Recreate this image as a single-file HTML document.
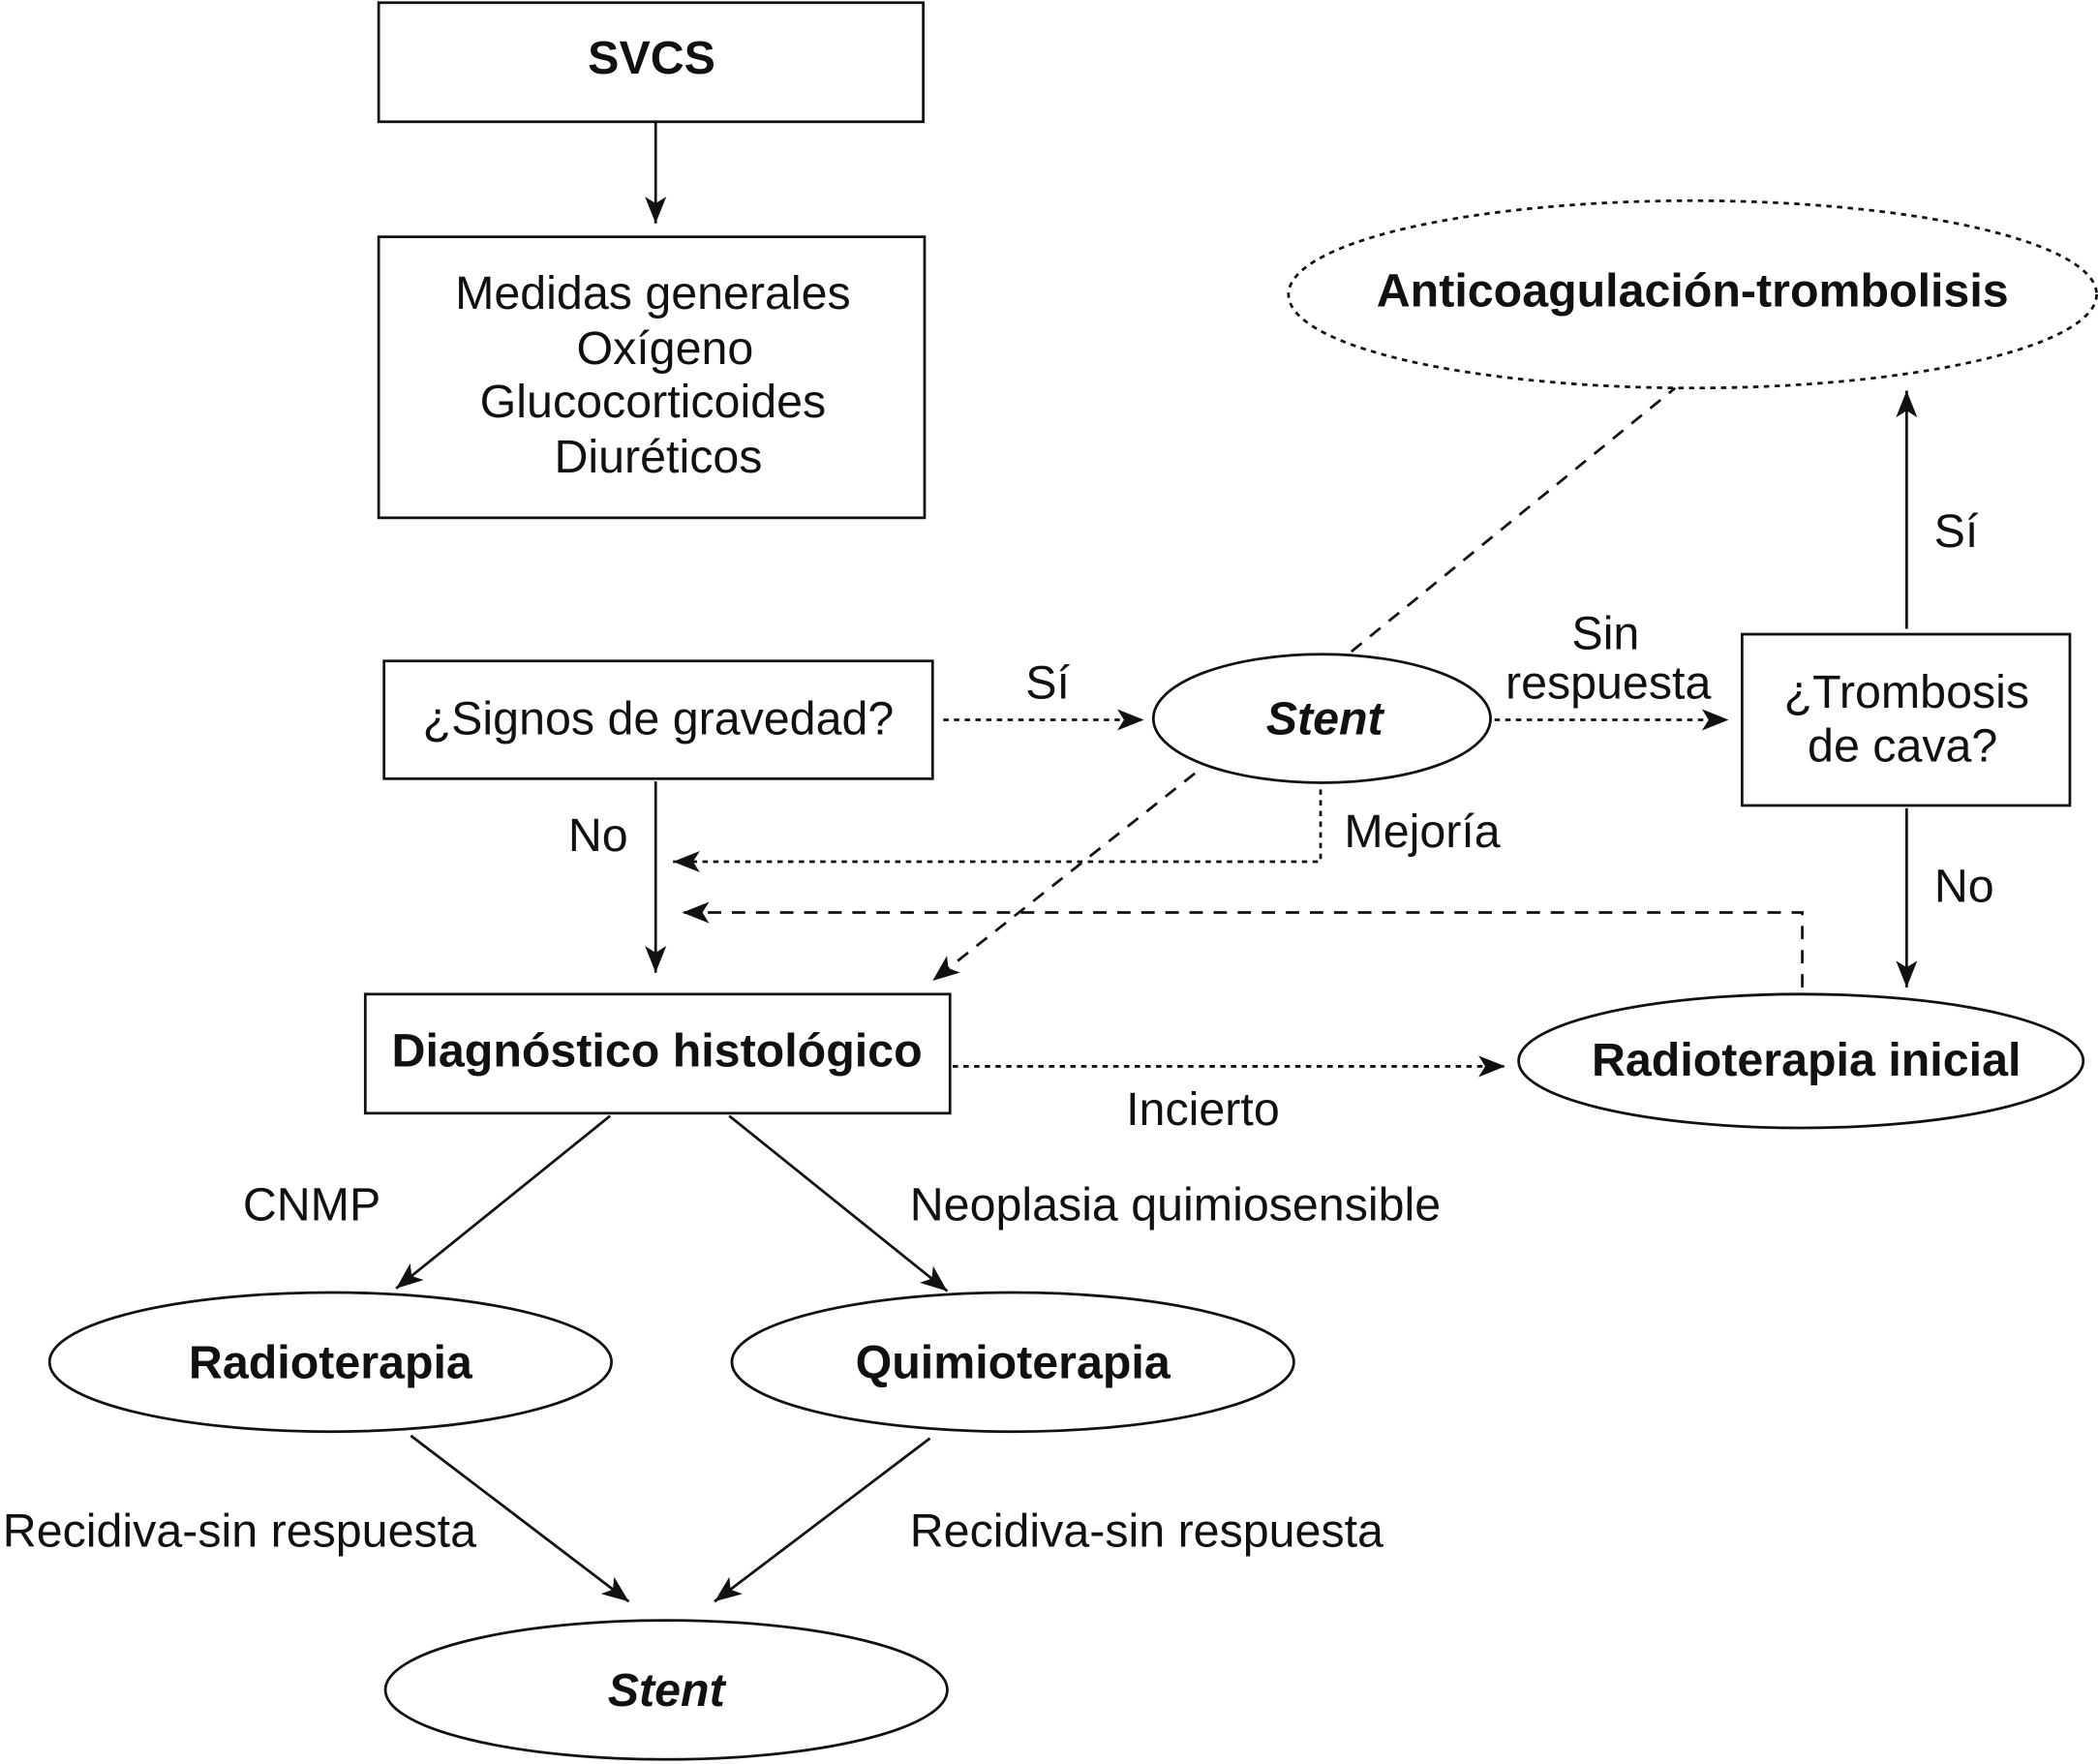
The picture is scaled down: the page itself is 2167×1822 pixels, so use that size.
<!DOCTYPE html>
<html><head><meta charset="utf-8"><style>
html,body{margin:0;padding:0;background:#fff}
svg{display:block}
text{font-family:"Liberation Sans",Arial,sans-serif;font-size:35px;fill:#111}
.b{font-weight:bold}
</style></head><body>
<svg width="2167" height="1822" viewBox="0 0 1568 1318.4" xmlns="http://www.w3.org/2000/svg">
<defs>
<marker id="A" viewBox="0 0 10 10" refX="10" refY="5" markerWidth="20" markerHeight="20" markerUnits="userSpaceOnUse" orient="auto"><path d="M0,1 L10,5 L0,9 L2.5,5 z" fill="#111"/></marker>
</defs>
<g fill="none" stroke="#111" stroke-width="2">
<rect x="283" y="2" width="407" height="89"/>
<rect x="283" y="177" width="408" height="210"/>
<ellipse cx="1265" cy="220" rx="302" ry="70" stroke-dasharray="4,4"/>
<rect x="287" y="494" width="410" height="88"/>
<ellipse cx="988" cy="537" rx="126" ry="48"/>
<rect x="1302" y="474" width="245" height="128"/>
<ellipse cx="1346" cy="793" rx="211" ry="50"/>
<rect x="273" y="743" width="437" height="89"/>
<ellipse cx="247" cy="1018" rx="210" ry="52"/>
<ellipse cx="757" cy="1018" rx="210" ry="52"/>
<ellipse cx="498" cy="1263" rx="210" ry="52"/>

<line x1="490" y1="91" x2="490" y2="167" marker-end="url(#A)"/>
<line x1="705" y1="538" x2="855" y2="538" stroke-dasharray="4,4" marker-end="url(#A)"/>
<line x1="1010" y1="487" x2="1252" y2="290" stroke-dasharray="10,8"/>
<line x1="1117" y1="538" x2="1292" y2="538" stroke-dasharray="4,4" marker-end="url(#A)"/>
<line x1="1425" y1="470" x2="1425" y2="292" marker-end="url(#A)"/>
<line x1="1425" y1="604" x2="1425" y2="738" marker-end="url(#A)"/>
<polyline points="1347,738 1347,682 510,682" stroke-dasharray="10,8" marker-end="url(#A)"/>
<polyline points="987,590 987,644 503,644" stroke-dasharray="4,4" marker-end="url(#A)"/>
<line x1="893" y1="578" x2="697" y2="733" stroke-dasharray="10,8" marker-end="url(#A)"/>
<line x1="490" y1="584" x2="490" y2="727" marker-end="url(#A)"/>
<line x1="712" y1="797" x2="1125" y2="797" stroke-dasharray="4,4" marker-end="url(#A)"/>
<line x1="456" y1="834" x2="296" y2="963" marker-end="url(#A)"/>
<line x1="545" y1="834" x2="708" y2="965" marker-end="url(#A)"/>
<line x1="307" y1="1073" x2="470" y2="1197" marker-end="url(#A)"/>
<line x1="695" y1="1075" x2="534" y2="1197" marker-end="url(#A)"/>
</g>
<g text-anchor="middle">
<text x="487" y="55" class="b">SVCS</text>
<text x="488" y="231">Medidas generales</text>
<text x="497" y="272">Oxígeno</text>
<text x="488" y="312">Glucocorticoides</text>
<text x="492" y="353">Diuréticos</text>
<text x="1265" y="229" class="b">Anticoagulación-trombolisis</text>
<text x="492" y="549">¿Signos de gravedad?</text>
<text x="783" y="522">Sí</text>
<text x="990" y="549" class="b" font-style="italic">Stent</text>
<text x="1200" y="485">Sin</text>
<text x="1202" y="522">respuesta</text>
<text x="1425" y="529">¿Trombosis</text>
<text x="1422" y="569">de cava?</text>
<text x="1462" y="409">Sí</text>
<text x="1468" y="674">No</text>
<text x="1063" y="633">Mejoría</text>
<text x="447" y="636">No</text>
<text x="491" y="797" class="b">Diagnóstico histológico</text>
<text x="899" y="841">Incierto</text>
<text x="1350" y="804" class="b">Radioterapia inicial</text>
<text x="233" y="912">CNMP</text>
<text x="247" y="1030" class="b">Radioterapia</text>
<text x="757" y="1030" class="b">Quimioterapia</text>
<text x="498" y="1275" class="b" font-style="italic">Stent</text>
</g>
<text x="680" y="912">Neoplasia quimiosensible</text>
<text x="2" y="1156">Recidiva-sin respuesta</text>
<text x="680" y="1156">Recidiva-sin respuesta</text>
</svg>
</body></html>
